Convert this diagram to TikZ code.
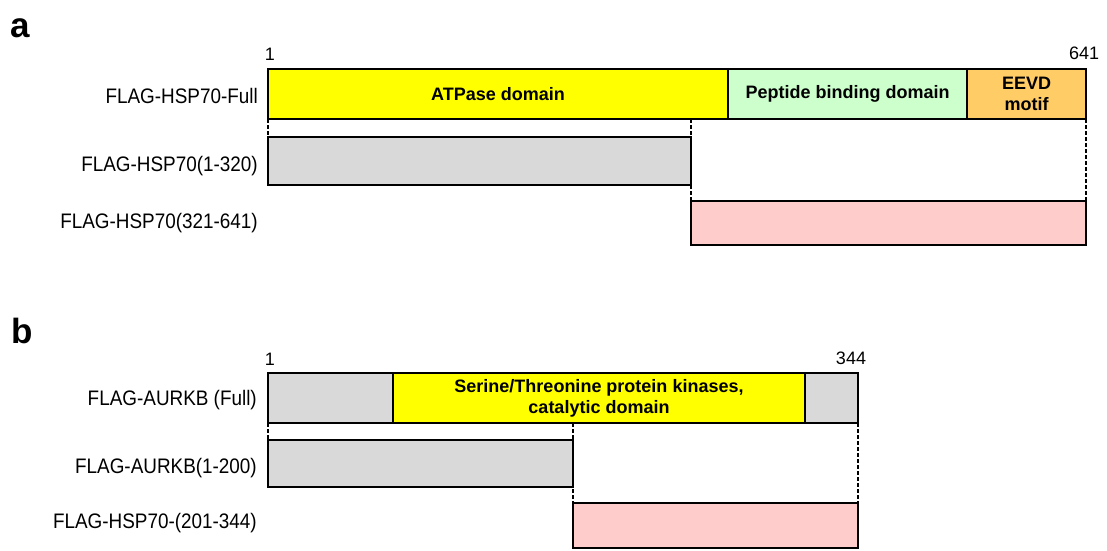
\documentclass[tikz,border=0pt]{standalone}
\usepackage{fontspec}
\setmainfont{Liberation Sans}
\newfontfamily\labfont[FakeStretch=0.9]{Liberation Sans}
\definecolor{domyellow}{HTML}{FFFF00}
\definecolor{domgreen}{HTML}{CCFFCC}
\definecolor{domorange}{HTML}{FFCC66}
\definecolor{domgray}{HTML}{D9D9D9}
\definecolor{dompink}{HTML}{FFCCCC}
\begin{document}
\begin{tikzpicture}[x=1pt,y=-1pt,
  seg/.style={draw=black, line width=2.6pt, inner sep=0pt, outer sep=0pt,
    anchor=north west, align=center,
    font=\fontsize{18}{21}\selectfont\bfseries},
  constr/.style={anchor=base east, inner sep=0pt,
    font=\labfont\fontsize{21}{24}\selectfont},
  resnum/.style={anchor=base, inner sep=0pt, font=\fontsize{18}{21}\selectfont},
  panel/.style={anchor=base west, inner sep=0pt, font=\fontsize{35}{40}\selectfont\bfseries},
  guide/.style={draw=black, line width=2pt, dash pattern=on 4pt off 2pt}]
\useasboundingbox (0,0) rectangle (1107,550);

% ---------- panel a: HSP70 ----------
\node[panel] (pa) at (10,37) {a};
\node[resnum] (a1pos) at (270,60) {1};
\node[resnum] (aendpos) at (1084,59) {641};

\node[seg, fill=domyellow, minimum width=460, minimum height=50] (atp) at (268,69) {ATPase domain};
\node[seg, fill=domgreen, minimum width=239, minimum height=50] (pep) at (728,69) {Peptide binding domain};
\node[seg, fill=domorange, minimum width=119, minimum height=50] (eevd) at (967,69) {EEVD\\motif};

\node[seg, fill=domgray, minimum width=423, minimum height=48] (an) at (268,137) {};
\node[seg, fill=dompink, minimum width=395, minimum height=44] (ac) at (691,201) {};

\node[constr] (la0) at (258,103) {FLAG-HSP70-Full};
\node[constr] (la1) at (258,171) {FLAG-HSP70(1-320)};
\node[constr] (la2) at (258,228) {FLAG-HSP70(321-641)};

\coordinate (acut) at (an.north east |- atp.south);
\draw[guide] (atp.south west) -- (an.north west);
\draw[guide] (acut) -- (ac.north west);
\draw[guide] (eevd.south east) -- (ac.north east);

% ---------- panel b: AURKB ----------
\node[panel] (pb) at (11,343) {b};
\node[resnum] (b1pos) at (270,365) {1};
\node[resnum] (bendpos) at (851,364) {344};

\node[seg, fill=domgray, minimum width=125, minimum height=50] (bnt) at (268,373) {};
\node[seg, fill=domyellow, minimum width=412, minimum height=50] (kin) at (393,373) {Serine/Threonine protein kinases,\\catalytic domain};
\node[seg, fill=domgray, minimum width=53, minimum height=50] (bct) at (805,373) {};

\node[seg, fill=domgray, minimum width=305, minimum height=47] (bn) at (268,440) {};
\node[seg, fill=dompink, minimum width=285, minimum height=45] (bc) at (573,503) {};

\node[constr] (lb0) at (257,405) {FLAG-AURKB (Full)};
\node[constr] (lb1) at (257,473) {FLAG-AURKB(1-200)};
\node[constr] (lb2) at (257,528) {FLAG-HSP70-(201-344)};

\coordinate (bcut) at (bn.north east |- kin.south);
\draw[guide] (bnt.south west) -- (bn.north west);
\draw[guide] (bcut) -- (bc.north west);
\draw[guide] (bct.south east) -- (bc.north east);
\end{tikzpicture}
\end{document}
